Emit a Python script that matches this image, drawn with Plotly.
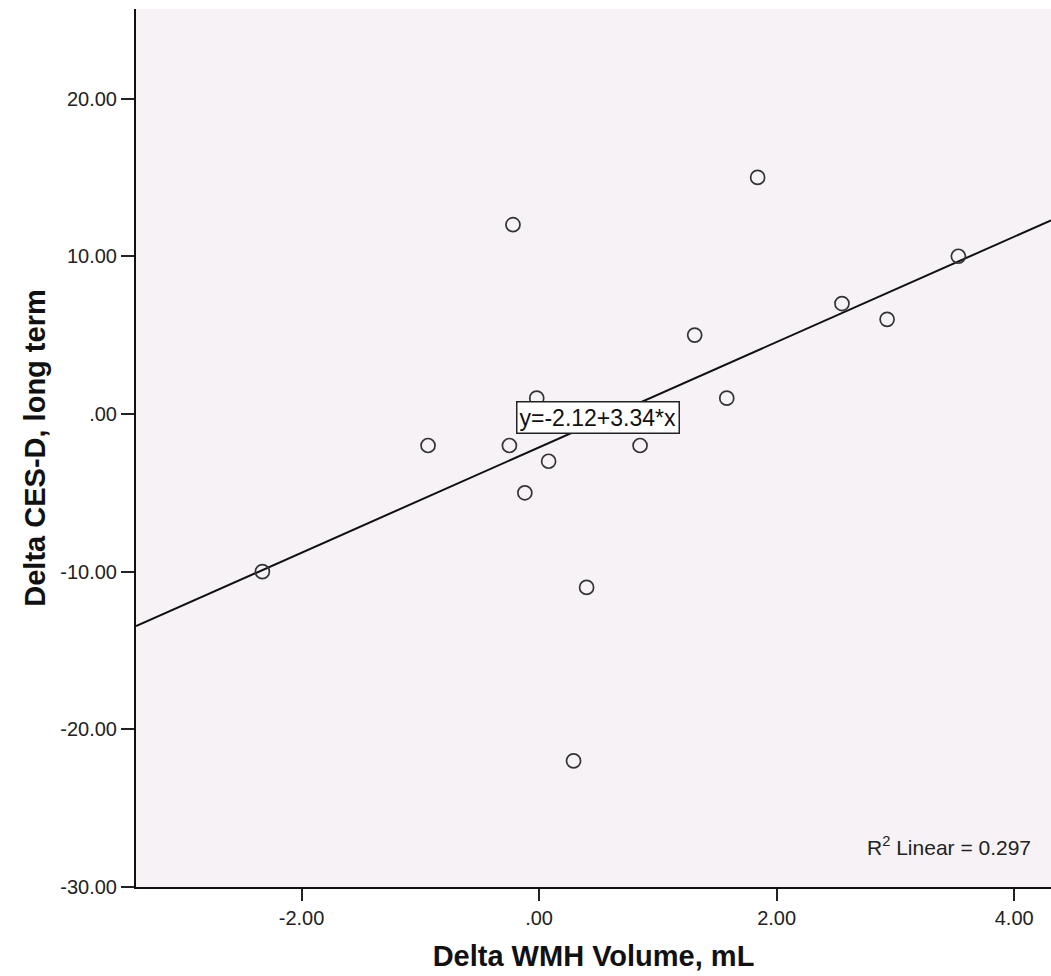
import plotly.graph_objects as go

delta_wmh = [-2.33, -0.935, -0.22, -0.25, -0.02, -0.12, 0.08, 0.40, 0.29, 0.85, 1.31, 1.58, 1.84, 2.55, 2.93, 3.53]
delta_cesd = [-10, -2, 12, -2, 1, -5, -3, -11, -22, -2, 5, 1, 15, 7, 6, 10]

intercept = -2.12
slope = 3.34
r2 = 0.297

x_range = [-3.394, 4.31]
y_range = [-30, 25.68]
x_ticks = [-2, 0, 2, 4]
x_tick_labels = ["-2.00", ".00", "2.00", "4.00"]
y_ticks = [-30, -20, -10, 0, 10, 20]
y_tick_labels = ["-30.00", "-20.00", "-10.00", ".00", "10.00", "20.00"]

font_family = "Arial, Liberation Sans, sans-serif"

fig = go.Figure()
fig.add_trace(go.Scatter(
    x=x_range, y=[intercept + slope * v for v in x_range],
    mode="lines", line=dict(color="#111111", width=2), hoverinfo="skip", showlegend=False))
fig.add_trace(go.Scatter(
    x=delta_wmh, y=delta_cesd, mode="markers",
    marker=dict(symbol="circle-open", size=14, color="#333333", line=dict(width=1.7, color="#333333")),
    showlegend=False))

fig.add_annotation(x=0.50, y=-0.25, xref="x", yref="y",
                   text=f"y={intercept:.2f}+{slope:.2f}*x", showarrow=False,
                   font=dict(family=font_family, size=23, color="#111111"),
                   bgcolor="white", bordercolor="#222222", borderwidth=1.5, borderpad=2)
fig.add_annotation(x=0.98, y=0.03, xref="paper", yref="paper", xanchor="right", yanchor="bottom",
                   text=f"R<sup>2</sup> Linear = {r2:.3f}", showarrow=False,
                   font=dict(family=font_family, size=21, color="#222222"))

fig.update_layout(
    width=1051, height=976,
    margin=dict(l=136, r=0, t=9, b=89),
    paper_bgcolor="white", plot_bgcolor="#F6F2F6",
    font=dict(family=font_family, color="#222222"),
    xaxis=dict(range=x_range, tickvals=x_ticks, ticktext=x_tick_labels,
               showgrid=False, zeroline=False, showline=True, linecolor="#111111", linewidth=2,
               ticks="outside", ticklen=12, tickwidth=1.5, tickcolor="#222222",
               tickfont=dict(size=20, family=font_family, color="#222222"),
               title=dict(text="<b>Delta WMH Volume, mL</b>", font=dict(size=29, family=font_family, color="#111111"), standoff=18)),
    yaxis=dict(range=y_range, tickvals=y_ticks, ticktext=y_tick_labels,
               showgrid=False, zeroline=False, showline=True, linecolor="#111111", linewidth=2,
               ticks="outside", ticklen=13, tickwidth=1.5, tickcolor="#222222",
               tickfont=dict(size=20, family=font_family, color="#222222"),
               title=dict(text="<b>Delta CES-D, long term</b>", font=dict(size=29, family=font_family, color="#111111"), standoff=6)),
)

fig.write_html("out.html")
